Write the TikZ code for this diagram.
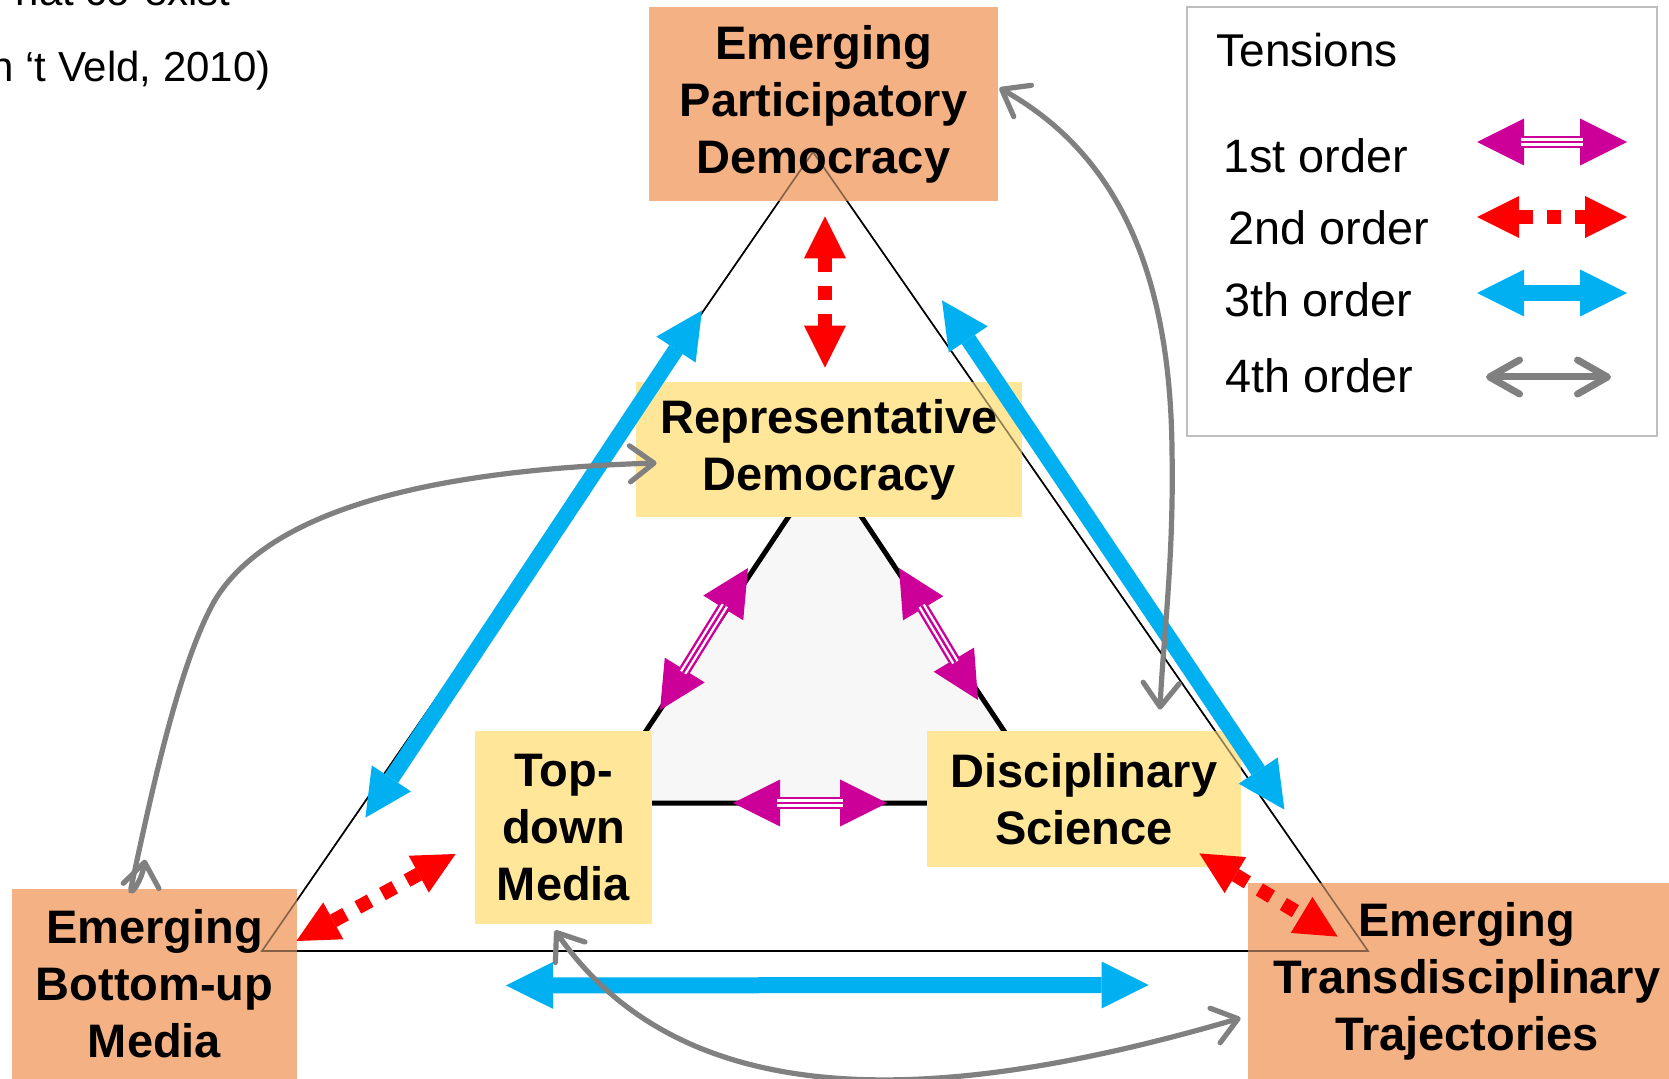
\documentclass[tikz,border=0pt]{standalone}
\usepackage{fontspec}
\setmainfont{Liberation Sans}
\usetikzlibrary{arrows.meta,calc}

\definecolor{salmon}{HTML}{F4B183}
\definecolor{gold}{HTML}{FFE699}
\definecolor{fmag}{HTML}{CC0099}
\definecolor{tcyan}{HTML}{00B0F0}
\definecolor{tgray}{HTML}{808080}
\definecolor{paleg}{HTML}{F7F7F7}
\definecolor{legline}{HTML}{BFBFBF}

\newcommand{\boxfont}{\fontsize{23.5}{28.5}\selectfont\bfseries}
\newcommand{\legfont}{\fontsize{23.4}{28}\selectfont}

\tikzset{
  emerging/.style={fill=salmon, inner sep=0pt, align=center, font=\boxfont},
  current/.style={fill=gold, inner sep=0pt, align=center, font=\boxfont},
  first/.style={draw=fmag, line width=6pt,
    {Triangle[length=23.5pt,width=23.5pt,line width=0pt]}-{Triangle[length=23.5pt,width=23.5pt,line width=0pt]},
    postaction={draw=white, line width=3.6pt, -, shorten <=22pt, shorten >=22pt},
    postaction={draw=fmag, line width=1.2pt, -, shorten <=22pt, shorten >=22pt}},
  second/.style={draw=red, line width=7pt, dash pattern=on 7pt off 7pt,
    {Triangle[length=21pt,width=21pt,line width=0pt]}-{Triangle[length=21pt,width=21pt,line width=0pt]}},
  third/.style={draw=tcyan, line width=8pt,
    {Triangle[length=23.5pt,width=23.5pt,line width=0pt]}-{Triangle[length=23.5pt,width=23.5pt,line width=0pt]}},
  fourth/.style={draw=tgray, line width=2.6pt, line cap=round,
    {Straight Barb[length=12pt,width=18pt,round]}-{Straight Barb[length=12pt,width=18pt,round]}},
  legtext/.style={anchor=base west, inner sep=0pt, font=\legfont}
}

\begin{document}
\begin{tikzpicture}[x=0.5pt, y=-0.5pt]
    \useasboundingbox (0,0) rectangle (1669,1079);
    % outer and inner triangle
    \coordinate (ot) at (813,152);
    \coordinate (ol) at (262,951);
    \coordinate (or) at (1368,951);
    \coordinate (it) at (825,462);
    \coordinate (il) at (598,803);
    \coordinate (ir) at (1052,803);
    \draw[line width=0.8pt] (ot) -- (ol) -- (or) -- cycle;
    \filldraw[fill=paleg, line width=2.5pt] (it) -- (il) -- (ir) -- cycle;
    %
    \node[emerging, minimum width=174.5pt, minimum height=97pt] (epd) at (823.5,104) {Emerging\\Participatory\\Democracy};
    \node[emerging, minimum width=142.5pt, minimum height=95pt] (ebm) at (154.5,984) {Emerging\\Bottom-up\\Media};
    \node[emerging, minimum width=219pt, minimum height=98pt] (ett) at (1467,981) {Emerging\\Transdisciplinary\\Trajectories};
    \node[current, minimum width=193pt, minimum height=67.5pt] (rd) at (829,449.5) {Representative\\Democracy};
    \node[current, minimum width=88.5pt, minimum height=96.5pt] (td) at (563.5,827.5) {Top-\\down\\Media};
    \node[current, minimum width=157pt, minimum height=68pt] (ds) at (1084,799) {Disciplinary\\Science};
    \draw[line width=0.8pt, draw opacity=0.45] (ot) -- (ol) -- (or) -- cycle;
    %
    \draw[first] ($(it)+(-77,106)$) -- ($(il)+(62,-93)$);
    \draw[first] ($(it)+(74,106)$) -- ($(ir)+(-74,-103)$);
    \draw[first] ($(il)+(135,0)$) -- ($(ir)+(-165,0)$);
    %
    \draw[second] ($(epd.south)+(1.5,15)$) -- ($(rd.north)+(-4,-14)$);
    \draw[second] ($(ebm.east)+(-1,-43)$) -- ($(td.west)+(-19,26.5)$);
    \draw[second] ($(ds.south east)+(-42,-14)$) -- ($(ett.north west)+(90,54)$);
    %
    \draw[third] ($(epd.south)+(-121.5,109)$) -- ($(ebm.north east)+(68,-71)$);
    \draw[third] ($(epd.south)+(118.5,99)$) -- ($(ds.north east)+(43,79)$);
    \draw[third] ($(td.south)+(-57.5,61)$) -- ($(ett.west)+(-99,4)$);
    %
    \draw[fourth] ($(rd.west)+(21,13.5)$) .. controls (430,470) and (270,510) .. (215,600)
        .. controls (178,665) and (150,800) .. (131,888)
        .. controls (130,898) and (142,880) .. ($(ebm.north)+(-9.5,-29)$);
    \draw[fourth] ($(epd.east)+(1,-16)$) .. controls (1110,150) and (1170,260) .. (1172,450)
        .. controls (1174,560) and (1163,640) .. ($(ds.north)+(76,-21)$);
    \draw[fourth] ($(td.south)+(-8.5,6)$) .. controls (690,1125) and (960,1100) .. ($(ett.west)+(-7,37)$);
    %
    % legend
    \node[draw=legline, line width=1pt, inner sep=0pt, minimum width=235pt, minimum height=214.5pt] (legend) at (1422,221.5) {};
    \node[legtext, font=\fontsize{23}{28}\selectfont] (tens) at (1216,67) {Tensions};
    \node[legtext] (ord1) at (1223,173) {1st order};
    \node[legtext] (ord2) at (1228,245) {2nd order};
    \node[legtext] (ord3) at (1224,317) {3th order};
    \node[legtext] (ord4) at (1225,393) {4th order};
    \draw[first] ($(legend.north east)+(-181,136)$) -- ($(legend.north east)+(-31,136)$);
    \draw[second] ($(legend.north east)+(-181,211)$) -- ($(legend.north east)+(-31,211)$);
    \draw[third] ($(legend.north east)+(-181,287)$) -- ($(legend.north east)+(-31,287)$);
    \draw[fourth, line width=3.5pt, {Straight Barb[length=15pt,width=17pt,round]}-{Straight Barb[length=15pt,width=17pt,round]}]
        ($(legend.north east)+(-172,371)$) -- ($(legend.north east)+(-47,371)$);
    %
    \node[anchor=base east, inner sep=0pt, font=\fontsize{21}{25}\selectfont] (cut) at (231,6) {hat co-exist};
    \node[anchor=base east, inner sep=0pt, font=\fontsize{21}{25}\selectfont] (src) at (271,82) {n ‘t Veld, 2010)};
\end{tikzpicture}
\end{document}
